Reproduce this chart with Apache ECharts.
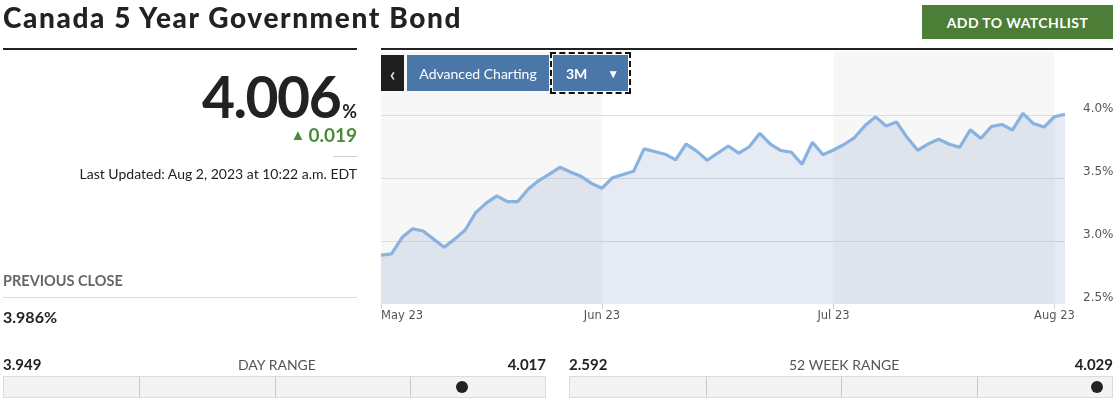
<!DOCTYPE html>
<html>
<head>
<meta charset="utf-8">
<script src="https://cdn.jsdelivr.net/npm/echarts@6/dist/echarts.min.js"></script>
<style>
  html, body { margin:0; padding:0; background:#fff; }
  body { width:1120px; height:411px; position:relative; overflow:hidden; font-family:Lato, "Noto Sans", sans-serif; color:#222; }
  #chart { position:absolute; left:0; top:0; width:1120px; height:411px; }
  .abs { position:absolute; white-space:nowrap; }
  .btn { position:absolute; color:#fff; font-family:Lato, sans-serif; font-size:14px; display:flex; align-items:center; justify-content:center; }
  .bar { position:absolute; height:20px; background:#f3f3f3; border:1px solid #dcdcdc; }
  .bar .div { position:absolute; top:0; bottom:0; width:1px; background:#c8c8c8; }
  .bar .dot { position:absolute; top:4px; width:12px; height:12px; border-radius:50%; background:#222; }
</style>
</head>
<body>
<div id="chart"></div>

<div class="abs" style="left:3px;top:0px;font-size:28px;font-weight:900;letter-spacing:1.6px;color:#222;">Canada 5 Year Government Bond</div>
<div class="btn" style="left:922px;top:5px;width:191px;height:34px;background:#4d7e38;font-weight:700;font-size:14px;letter-spacing:0.4px;">ADD TO WATCHLIST</div>
<div class="abs" style="left:3px;top:48px;width:354px;height:2px;background:#222;"></div>
<div class="abs" style="left:381px;top:48px;width:732px;height:2px;background:#222;"></div>

<div class="abs" style="right:763px;top:62px;text-align:right;color:#222;"><span style="font-size:57px;font-weight:700;letter-spacing:-1.5px;">4.006</span><span style="font-size:18px;font-weight:700;margin-left:2px;">%</span></div>
<div class="abs" style="right:763px;top:123px;text-align:right;color:#4a8a3a;font-size:19px;font-weight:700;"><span style="font-size:15px;vertical-align:2px;margin-right:3px;">&#9650;</span>0.019</div>
<div class="abs" style="left:333px;top:156px;width:24px;height:1px;background:#cfcfcf;"></div>
<div class="abs" style="right:763px;top:165px;text-align:right;font-size:14px;color:#222;">Last Updated: Aug 2, 2023 at 10:22 a.m. EDT</div>

<div class="abs" style="left:3px;top:272px;font-size:14.5px;font-weight:700;color:#666;">PREVIOUS CLOSE</div>
<div class="abs" style="left:3px;top:297px;width:354px;height:1px;background:#dcdcdc;"></div>
<div class="abs" style="left:3px;top:307px;font-size:16px;font-weight:700;color:#222;">3.986%</div>

<div class="abs" style="left:3px;top:355px;font-size:15px;font-weight:700;color:#222;">3.949</div>
<div class="abs" style="left:238px;top:356px;font-size:14px;color:#555;">DAY RANGE</div>
<div class="abs" style="right:574px;top:355px;font-size:15px;font-weight:700;color:#222;">4.017</div>
<div class="bar" style="left:3px;top:376px;width:541px;">
  <div class="div" style="left:135px"></div><div class="div" style="left:271px"></div><div class="div" style="left:406px"></div>
  <div class="dot" style="left:452px"></div>
</div>

<div class="abs" style="left:569px;top:355px;font-size:15px;font-weight:700;color:#222;">2.592</div>
<div class="abs" style="left:789px;top:356px;font-size:14px;color:#555;">52 WEEK RANGE</div>
<div class="abs" style="right:7px;top:355px;font-size:15px;font-weight:700;color:#222;">4.029</div>
<div class="bar" style="left:569px;top:376px;width:542px;">
  <div class="div" style="left:136px"></div><div class="div" style="left:271px"></div><div class="div" style="left:407px"></div>
  <div class="dot" style="left:521px"></div>
</div>

<div class="btn" style="left:381px;top:55px;width:23px;height:36px;background:#1e1e1e;font-size:20px;">&#8249;</div>
<div class="btn" style="left:407px;top:55px;width:142px;height:36px;background:#4a77a8;">Advanced Charting</div>
<div class="btn" style="left:553px;top:55px;width:75px;height:36px;background:#4a77a8;outline:2px dashed #111;outline-offset:1px;justify-content:flex-start;">
  <span style="margin-left:13px;font-weight:700;">3M</span><span style="margin-left:20px;font-size:12px;">&#9660;</span>
</div>

<script>
// Trading days (categories)
const dates = [
  "2023-05-02","2023-05-03","2023-05-04","2023-05-05","2023-05-08","2023-05-09","2023-05-10","2023-05-11","2023-05-12",
  "2023-05-15","2023-05-16","2023-05-17","2023-05-18","2023-05-19","2023-05-23","2023-05-24","2023-05-25","2023-05-26",
  "2023-05-29","2023-05-30","2023-05-31",
  "2023-06-01","2023-06-02","2023-06-05","2023-06-06","2023-06-07","2023-06-08","2023-06-09","2023-06-12","2023-06-13",
  "2023-06-14","2023-06-15","2023-06-16","2023-06-19","2023-06-20","2023-06-21","2023-06-22","2023-06-23","2023-06-26",
  "2023-06-27","2023-06-28","2023-06-29","2023-06-30",
  "2023-07-03","2023-07-04","2023-07-05","2023-07-06","2023-07-07","2023-07-10","2023-07-11","2023-07-12","2023-07-13",
  "2023-07-14","2023-07-17","2023-07-18","2023-07-19","2023-07-20","2023-07-21","2023-07-24","2023-07-25","2023-07-26",
  "2023-07-27","2023-07-28","2023-07-31",
  "2023-08-01","2023-08-02"
];
// Yield, %
const yields = [
  2.887,2.898,3.027,3.097,3.079,3.015,2.951,3.015,3.087,
  3.225,3.301,3.358,3.313,3.313,3.413,3.480,3.531,3.585,
  3.548,3.514,3.457,
  3.419,3.502,3.528,3.553,3.731,3.710,3.689,3.644,3.770,
  3.713,3.641,3.698,3.754,3.698,3.748,3.855,3.768,3.718,
  3.704,3.609,3.784,3.684,
  3.722,3.766,3.821,3.916,3.985,3.913,3.944,3.821,3.720,
  3.771,3.808,3.768,3.744,3.883,3.813,3.909,3.925,3.880,
  4.013,3.932,3.904,
  3.986,4.006
];
const monthNames = ["Jan","Feb","Mar","Apr","May","Jun","Jul","Aug","Sep","Oct","Nov","Dec"];
const yTicks = [2.5, 3.0, 3.5, 4.0];

function isMonthStart(i) {
  return i === 0 || dates[i].slice(0,7) !== dates[i-1].slice(0,7);
}
function monthLabel(d) {
  return monthNames[parseInt(d.slice(5,7),10)-1] + ' ' + d.slice(2,4);
}

const chart = echarts.init(document.getElementById('chart'), null, {renderer:'canvas'});
chart.setOption({
  animation: false,
  grid: { left: 381, right: 55, top: 52, bottom: 107 },
  xAxis: {
    type: 'category',
    data: dates,
    boundaryGap: false,
    z: 0,
    axisLine: { show: false },
    axisTick: { show: true, interval: (i) => isMonthStart(i), length: 5, lineStyle: { color: '#d0d0d0' } },
    axisLabel: {
      interval: (i) => isMonthStart(i),
      formatter: (v) => monthLabel(v),
      color: '#555', fontFamily: 'DejaVu Sans', fontSize: 11.5, margin: 6,
      alignMinLabel: 'left'
    },
    splitLine: { show: false },
    splitArea: { show: true, interval: (i) => isMonthStart(i), areaStyle: { color: ['#f7f7f7', '#ffffff'] } }
  },
  yAxis: {
    type: 'value',
    position: 'right',
    min: 2.5, max: 4.5, interval: 0.5,
    z: 1,
    axisLine: { show: false },
    axisTick: { show: false },
    axisLabel: {
      formatter: (v) => yTicks.some(t => Math.abs(t - v) < 1e-9) ? v.toFixed(1) + '%' : '',
      color: '#555', fontFamily: 'DejaVu Sans', fontSize: 12, margin: 18, verticalAlign: 'bottom'
    },
    splitLine: { lineStyle: { color: ['rgba(0,0,0,0)', '#dedede', '#dedede', '#dedede', 'rgba(0,0,0,0)'], width: 1 } }
  },
  series: [{
    type: 'line',
    data: yields,
    z: 2,
    symbol: 'none',
    smooth: false,
    lineStyle: { color: '#88b2df', width: 3.2 },
    areaStyle: { color: 'rgba(130,158,198,0.3)' }
  }]
});
</script>
</body>
</html>
